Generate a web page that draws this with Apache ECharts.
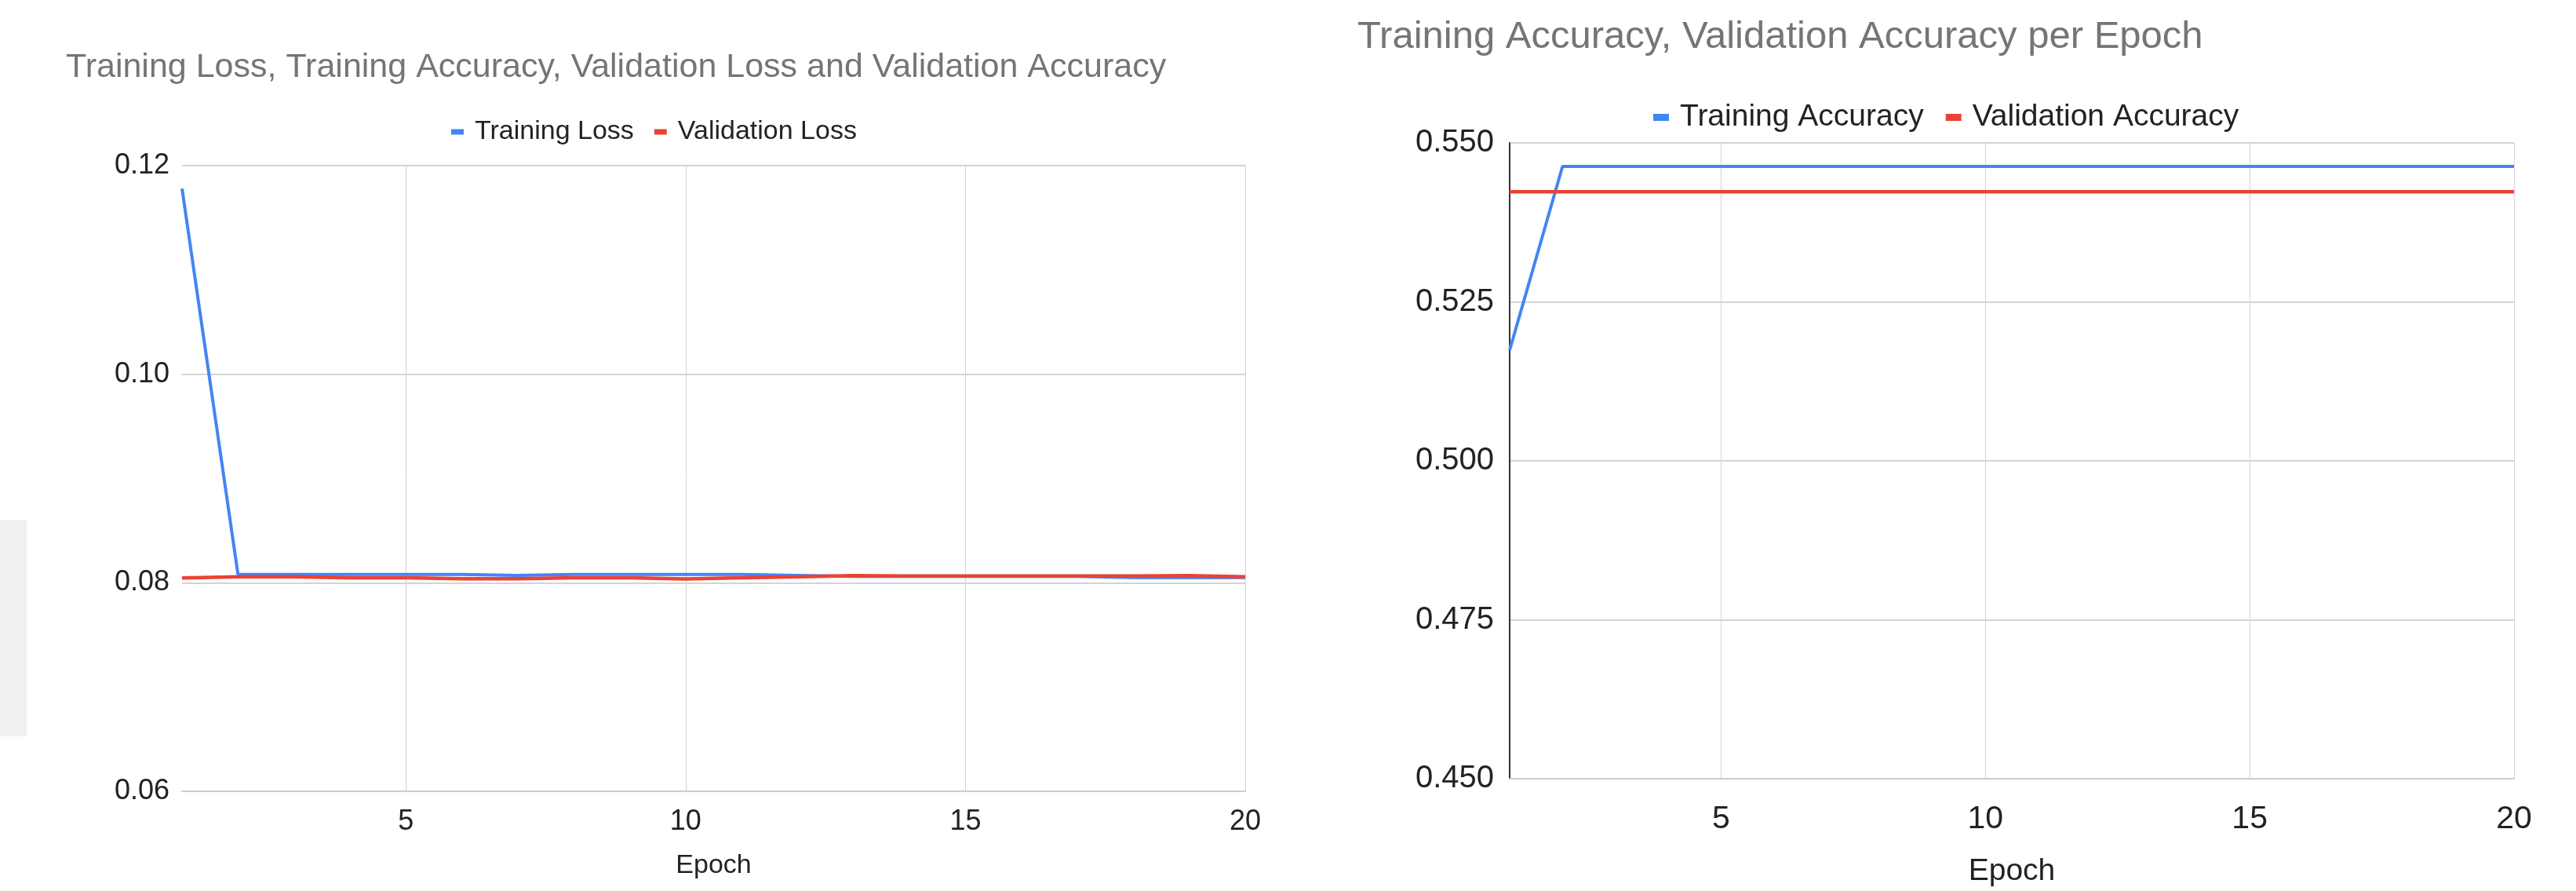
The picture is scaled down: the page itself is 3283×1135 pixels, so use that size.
<!DOCTYPE html>
<html>
<head>
<meta charset="utf-8">
<script src="https://cdn.jsdelivr.net/npm/echarts@6/dist/echarts.min.js"></script>
<style>
  html, body { margin: 0; padding: 0; background: #fff; }
  #chart { width: 3283px; height: 1135px; }
</style>
</head>
<body>
<div id="chart"></div>
<script>
// epochs and tick labels
const epochs = [1, 2, 3, 4, 5, 6, 7, 8, 9, 10, 11, 12, 13, 14, 15, 16, 17, 18, 19, 20];
const epochTicks = [5, 10, 15, 20];
const lossTicks = [0.06, 0.08, 0.10, 0.12];
const accTicks = [0.450, 0.475, 0.500, 0.525, 0.550];

// values
const trainingLoss = [0.1178, 0.0808, 0.0808, 0.0808, 0.0808, 0.0808, 0.0807, 0.0808, 0.0808, 0.0808,
  0.0808, 0.0807, 0.0806, 0.0806, 0.0806, 0.0806, 0.0806, 0.0805, 0.0805, 0.0805];
const validationLoss = [0.08045, 0.08057, 0.08057, 0.08047, 0.08047, 0.08038, 0.08038, 0.08047, 0.08047, 0.08037,
  0.08047, 0.08057, 0.08068, 0.08065, 0.08065, 0.08065, 0.08065, 0.08065, 0.08068, 0.08057];
const trainingAccuracy = [0.5174, 0.5463, 0.5463, 0.5463, 0.5463, 0.5463, 0.5463, 0.5463, 0.5463, 0.5463,
  0.5463, 0.5463, 0.5463, 0.5463, 0.5463, 0.5463, 0.5463, 0.5463, 0.5463, 0.5463];
const validationAccuracy = [0.5423, 0.5423, 0.5423, 0.5423, 0.5423, 0.5423, 0.5423, 0.5423, 0.5423, 0.5423,
  0.5423, 0.5423, 0.5423, 0.5423, 0.5423, 0.5423, 0.5423, 0.5423, 0.5423, 0.5423];

const FONT = 'Arial, "Liberation Sans", sans-serif';
const BLUE = '#4285f4';
const RED = '#ea4335';

const showEpoch = (i) => epochTicks.includes(epochs[i]);

function xAxis(gridIndex, fontSize, margin, nameSize, nameGap) {
  return {
    type: 'category',
    gridIndex: gridIndex,
    data: epochs,
    boundaryGap: false,
    name: 'Epoch',
    nameLocation: 'middle',
    nameGap: nameGap,
    nameTextStyle: { fontFamily: FONT, fontSize: nameSize, color: '#222' },
    axisTick: { show: false },
    axisLine: { show: true, lineStyle: { color: '#cccccc', width: 2 } },
    axisLabel: { interval: showEpoch, fontFamily: FONT, fontSize: fontSize, color: '#222', margin: margin },
    splitLine: { show: true, interval: showEpoch, lineStyle: { color: '#d3d3d3', width: 1 } }
  };
}

const chart = echarts.init(document.getElementById('chart'));
chart.setOption({
  animation: false,
  backgroundColor: '#ffffff',
  title: [
    {
      text: 'Training Loss, Training Accuracy, Validation Loss and Validation Accuracy',
      left: 84, top: 65, padding: 0,
      textStyle: { fontFamily: FONT, fontSize: 43, fontWeight: 'normal', color: '#757575' }
    },
    {
      text: 'Training Accuracy, Validation Accuracy per Epoch',
      left: 1730, top: 23, padding: 0,
      textStyle: { fontFamily: FONT, fontSize: 49, fontWeight: 'normal', color: '#757575' }
    }
  ],
  legend: [
    {
      data: ['Training Loss', 'Validation Loss'],
      left: 575, top: 151, padding: 0,
      icon: 'rect', itemWidth: 16, itemHeight: 7, itemGap: 26,
      textStyle: { fontFamily: FONT, fontSize: 34, color: '#222', padding: [0, 0, 0, 9] }
    },
    {
      data: ['Training Accuracy', 'Validation Accuracy'],
      left: 2107, top: 130, padding: 0,
      icon: 'rect', itemWidth: 20, itemHeight: 9, itemGap: 28,
      textStyle: { fontFamily: FONT, fontSize: 39, color: '#222', padding: [0, 0, 0, 9] }
    }
  ],
  graphic: [
    { type: 'rect', shape: { x: 0, y: 662, width: 34, height: 276 }, style: { fill: '#f1f1f1' }, silent: true }
  ],
  grid: [
    { left: 232, top: 211, width: 1355, height: 797 },
    { left: 1924, top: 182, width: 1280, height: 811 }
  ],
  xAxis: [
    xAxis(0, 36, 21, 34, 78),
    xAxis(1, 41, 31, 39, 99)
  ],
  yAxis: [
    {
      type: 'value', gridIndex: 0,
      min: lossTicks[0], max: lossTicks[lossTicks.length - 1], interval: 0.02,
      axisLine: { show: false }, axisTick: { show: false },
      axisLabel: { fontFamily: FONT, fontSize: 36, color: '#222', margin: 16, formatter: (v) => v.toFixed(2) },
      splitLine: { lineStyle: { color: '#d3d3d3', width: 2 } }
    },
    {
      type: 'value', gridIndex: 1,
      min: accTicks[0], max: accTicks[accTicks.length - 1], interval: 0.025,
      axisLine: { show: true, lineStyle: { color: '#333333', width: 2 } }, axisTick: { show: false },
      axisLabel: { fontFamily: FONT, fontSize: 40, color: '#222', margin: 20, formatter: (v) => v.toFixed(3) },
      splitLine: { lineStyle: { color: '#d3d3d3', width: 2 } }
    }
  ],
  series: [
    { name: 'Training Loss', type: 'line', xAxisIndex: 0, yAxisIndex: 0, data: trainingLoss,
      showSymbol: false, color: BLUE, lineStyle: { width: 4 } },
    { name: 'Validation Loss', type: 'line', xAxisIndex: 0, yAxisIndex: 0, data: validationLoss,
      showSymbol: false, color: RED, lineStyle: { width: 4.5 } },
    { name: 'Training Accuracy', type: 'line', xAxisIndex: 1, yAxisIndex: 1, data: trainingAccuracy,
      showSymbol: false, color: BLUE, lineStyle: { width: 4 } },
    { name: 'Validation Accuracy', type: 'line', xAxisIndex: 1, yAxisIndex: 1, data: validationAccuracy,
      showSymbol: false, color: RED, lineStyle: { width: 4.5 } }
  ]
});
</script>
</body>
</html>
